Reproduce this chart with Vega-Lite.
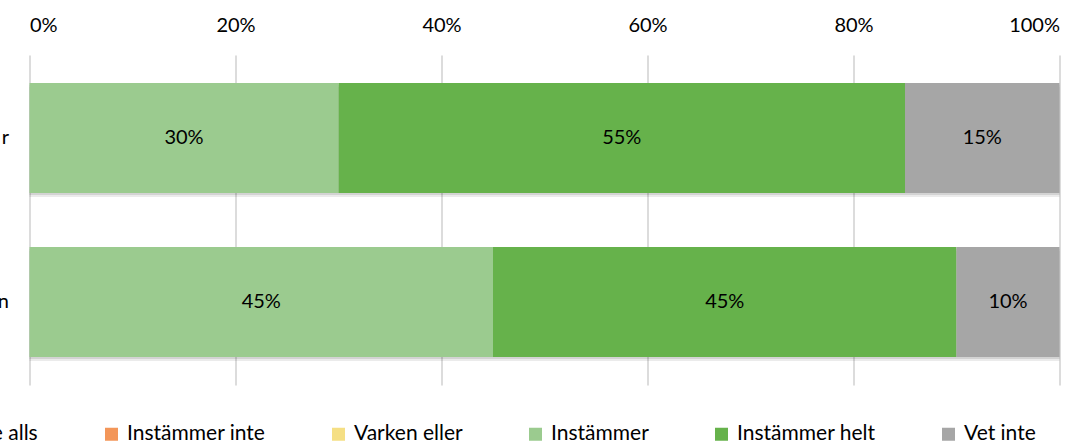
{
  "$schema": "https://vega.github.io/schema/vega-lite/v6.json",
  "width": 1030,
  "height": 330,
  "autosize": {"type": "none"},
  "padding": {"left": 29.5, "top": 55, "right": 32.5, "bottom": 60},
  "background": "white",
  "config": {
    "font": "Lato",
    "view": {"stroke": null},
    "axis": {"labelFont": "Lato", "labelFontSize": 20, "labelColor": "#000000"},
    "legend": {"labelFont": "Lato", "labelFontSize": 21, "labelColor": "#000000"}
  },
  "data": {
    "values": [
      {"row": "r", "cat": "Instämmer", "rank": 4, "value": 0.30},
      {"row": "r", "cat": "Instämmer helt", "rank": 5, "value": 0.55},
      {"row": "r", "cat": "Vet inte", "rank": 6, "value": 0.15},
      {"row": "n", "cat": "Instämmer", "rank": 4, "value": 0.45},
      {"row": "n", "cat": "Instämmer helt", "rank": 5, "value": 0.45},
      {"row": "n", "cat": "Vet inte", "rank": 6, "value": 0.10}
    ]
  },
  "encoding": {
    "y": {
      "field": "row",
      "type": "nominal",
      "sort": ["r", "n"],
      "scale": {"paddingInner": 0.33, "paddingOuter": 0.17},
      "axis": {"title": null, "ticks": false, "domain": false, "labelPadding": 21, "grid": false}
    },
    "x": {
      "field": "value",
      "type": "quantitative",
      "stack": "zero",
      "scale": {"domain": [0, 1], "nice": false},
      "axis": {
        "orient": "top",
        "title": null,
        "format": ".0%",
        "values": [0, 0.2, 0.4, 0.6, 0.8, 1],
        "ticks": false,
        "domain": false,
        "labelPadding": 20,
        "grid": true,
        "gridColor": "#D0D0D0",
        "gridWidth": 1.5
      }
    },
    "order": {"field": "rank", "type": "quantitative"}
  },
  "layer": [
    {
      "mark": {"type": "bar", "color": "#000000", "opacity": 0.1, "yOffset": 2}
    },
    {
      "mark": {"type": "bar", "color": "#000000", "opacity": 0.08, "yOffset": 4}
    },
    {
      "mark": {"type": "bar"},
      "encoding": {
        "color": {
          "field": "cat",
          "type": "nominal",
          "scale": {
            "domain": ["Instämmer inte alls", "Instämmer inte", "Varken eller", "Instämmer", "Instämmer helt", "Vet inte"],
            "range": ["#E0504A", "#F39659", "#F5DF84", "#9BCB8F", "#66B24B", "#A6A6A6"]
          },
          "legend": {
            "title": null,
            "orient": "none",
            "direction": "horizontal",
            "columns": 6,
            "legendX": -190.5,
            "legendY": 368.5,
            "symbolType": "square",
            "symbolSize": 169,
            "symbolStrokeWidth": 0,
            "labelOffset": 5,
            "labelLimit": 400,
            "columnPadding": 62
          }
        }
      }
    },
    {
      "mark": {"type": "text", "fontSize": 20, "color": "#000000", "font": "Lato"},
      "encoding": {
        "x": {"field": "value", "type": "quantitative", "stack": "zero", "bandPosition": 0.5},
        "text": {"field": "value", "type": "quantitative", "format": ".0%"}
      }
    }
  ]
}
